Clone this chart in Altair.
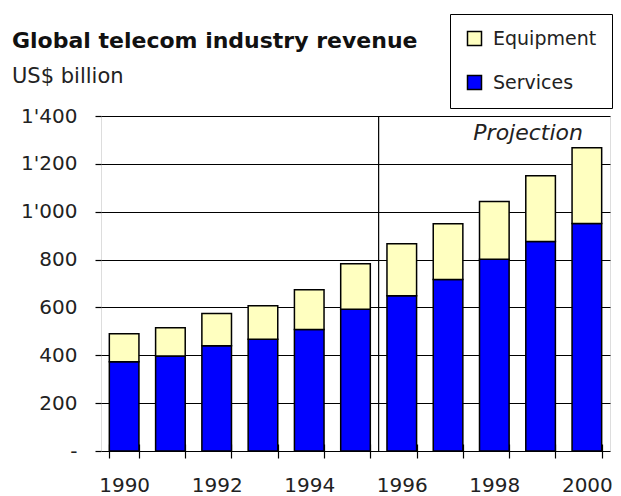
import altair as alt
import pandas as pd

years = [1990, 1991, 1992, 1993, 1994, 1995, 1996, 1997, 1998, 1999, 2000]
services = [373, 397, 440, 467, 508, 592, 649, 717, 801, 876, 951]
equipment = [117, 118, 135, 140, 166, 191, 217, 233, 242, 274, 316]
series_names = ["Equipment", "Services"]
series_colors = ["#FFFFC0", "#0000FF"]
y_ticks = [0, 200, 400, 600, 800, 1000, 1200, 1400]
projection_start = [1996]
title_text = ["Global telecom industry revenue"]
subtitle_text = ["US$ billion"]
projection_text = ["Projection"]

rows = []
for yr, s, e in zip(years, services, equipment):
    rows.append({"year": yr, "series": "Services", "value": s, "rank": 0})
    rows.append({"year": yr, "series": "Equipment", "value": e, "rank": 1})
df = pd.DataFrame(rows)

FONT = "DejaVu Sans"
LEFT = 93
W, H = 509, 335
PAD_IN, PAD_OUT = 0.36, 0.18
step = W / len(years)

x_scale = alt.Scale(paddingInner=PAD_IN, paddingOuter=PAD_OUT)

x_axis = alt.Axis(
    title=None,
    labelExpr="datum.value % 2 == 0 ? datum.label : ''",
    labelAngle=0,
    tickBand="extent",
    tickSize=14,
    offset=-7,
    domain=False,
    grid=False,
    labelPadding=17,
    labelFont=FONT,
    labelFontSize=20,
    labelColor="#222222",
    tickColor="black",
    tickWidth=1.2,
)

y_axis = alt.Axis(
    title=None,
    values=y_ticks,
    labelExpr="datum.value == 0 ? '-' : replace(format(datum.value, ','), ',', \"'\")",
    grid=True,
    gridColor="black",
    gridWidth=1,
    domain=False,
    tickSize=6,
    tickColor="black",
    tickWidth=1.2,
    labelPadding=18,
    labelFont=FONT,
    labelFontSize=20,
    labelColor="#222222",
)

bars = alt.Chart(df).mark_bar(stroke="black", strokeWidth=1.5).encode(
    x=alt.X("year:O", axis=x_axis, scale=x_scale),
    y=alt.Y("value:Q", stack="zero", scale=alt.Scale(domain=[0, 1400]), axis=y_axis),
    color=alt.Color(
        "series:N",
        scale=alt.Scale(domain=series_names, range=series_colors),
        legend=alt.Legend(
            title=None,
            orient="none",
            legendX=349,
            legendY=-102,
            direction="vertical",
            symbolType="square",
            symbolSize=196,
            symbolStrokeColor="black",
            symbolStrokeWidth=1.5,
            symbolOpacity=1,
            labelFont=FONT,
            labelFontSize=19,
            labelColor="#222222",
            labelOffset=9,
            rowPadding=23,
            padding=15,
            strokeColor="black",
            fillColor="white",
        ),
    ),
    order=alt.Order("rank:Q", sort="ascending"),
)

divider = alt.Chart(pd.DataFrame({"year": projection_start})).mark_rule(
    color="black", strokeWidth=1.2, xOffset=-step * PAD_IN / 2
).encode(
    x=alt.X("year:O", bandPosition=0),
    y=alt.value(0),
    y2=alt.value(H),
)

proj_label = alt.Chart(pd.DataFrame({"label": projection_text})).mark_text(
    font=FONT, fontSize=22, fontStyle="italic", align="right", baseline="middle", color="#222222"
).encode(
    text="label:N",
    x=alt.value(W - 27),
    y=alt.value(17),
)

title_mark = alt.Chart(pd.DataFrame({"label": title_text})).mark_text(
    font=FONT, fontSize=22, fontWeight="bold", align="left", baseline="alphabetic", color="#111111"
).encode(
    text="label:N",
    x=alt.value(12 - 8 - LEFT),
    y=alt.value(-68),
)

subtitle_mark = alt.Chart(pd.DataFrame({"label": subtitle_text})).mark_text(
    font=FONT, fontSize=21, align="left", baseline="alphabetic", color="#222222"
).encode(
    text="label:N",
    x=alt.value(12 - 8 - LEFT),
    y=alt.value(-33),
)

chart = (
    alt.layer(bars, divider, proj_label, title_mark, subtitle_mark)
    .properties(
        width=W,
        height=H,
        autosize=alt.AutoSizeParams(type="none"),
        padding={"left": LEFT, "top": 108, "right": 3, "bottom": 50},
    )
    .configure_view(stroke="black", strokeWidth=1.5)
    .configure(background="white")
)

chart.save("out.html", embed_options={"renderer": "svg", "actions": False})
